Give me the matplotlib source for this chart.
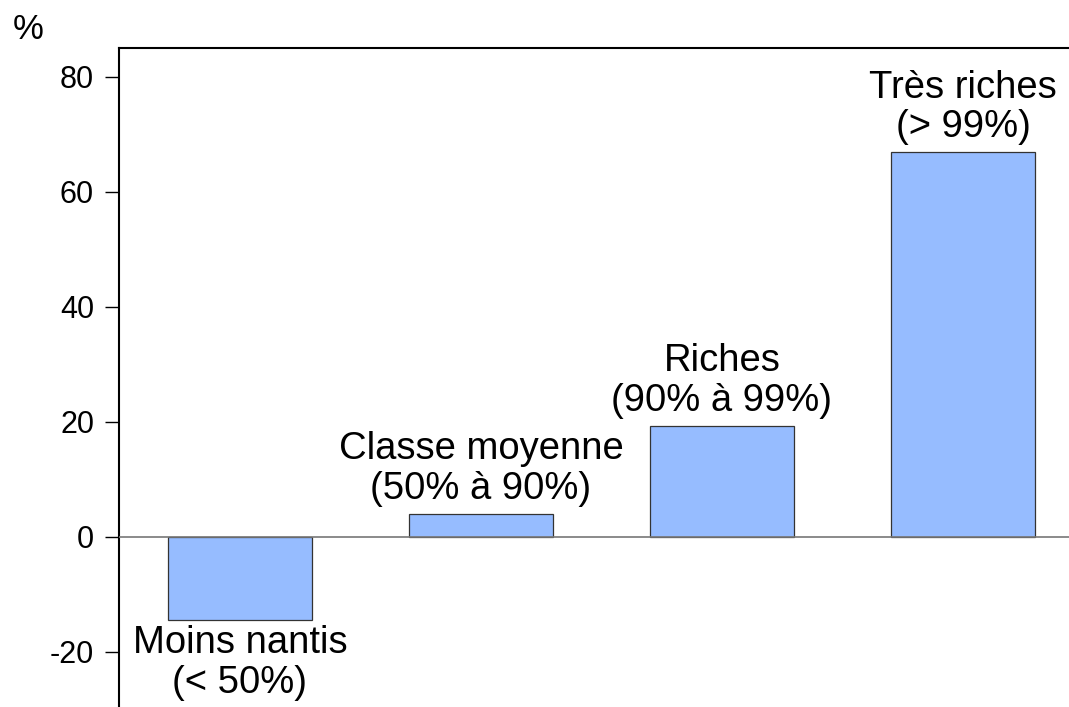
import matplotlib.pyplot as plt

plt.rcParams['font.family'] = ['Liberation Sans', 'DejaVu Sans']

categories = ["Moins nantis\n(< 50%)", "Classe moyenne\n(50% à 90%)",
              "Riches\n(90% à 99%)", "Très riches\n(> 99%)"]
values = [-14.4, 4.0, 19.3, 66.9]
yticks = [-20, 0, 20, 40, 60, 80]

fig = plt.figure(figsize=(10.69, 7.07), dpi=100)
ax = fig.add_axes([119 / 1069, 0, 950 / 1069, (707 - 48) / 707])

x = list(range(len(values)))
ax.bar(x, values, width=0.6, color='#96BCFF', edgecolor='#333333', linewidth=0.9, zorder=2)
ax.axhline(0, color='#777777', linewidth=1.2, zorder=3)

for xi, v, lab in zip(x, values, categories):
    if v < 0:
        ax.annotate(lab, (xi, v), xytext=(0, -4), textcoords='offset points',
                    ha='center', va='top', fontsize=27.5, linespacing=1.12)
    else:
        ax.annotate(lab, (xi, v), xytext=(0, 5), textcoords='offset points',
                    ha='center', va='bottom', fontsize=27.5, linespacing=1.12)

ax.set_xlim(-0.502, 3.44)
ax.set_ylim(-29.6, 85)
ax.set_yticks(yticks)
ax.set_yticklabels([str(t) for t in yticks], fontsize=22)
ax.tick_params(axis='y', direction='out', length=10, width=1, pad=8)
ax.set_xticks([])
ax.spines['right'].set_visible(False)
ax.spines['bottom'].set_visible(False)
ax.spines['left'].set_linewidth(1.5)
ax.spines['top'].set_linewidth(1.5)

fig.text(13 / 1069, 1 - 39 / 707, '%', fontsize=25)

fig.savefig('out.png', dpi=100)
